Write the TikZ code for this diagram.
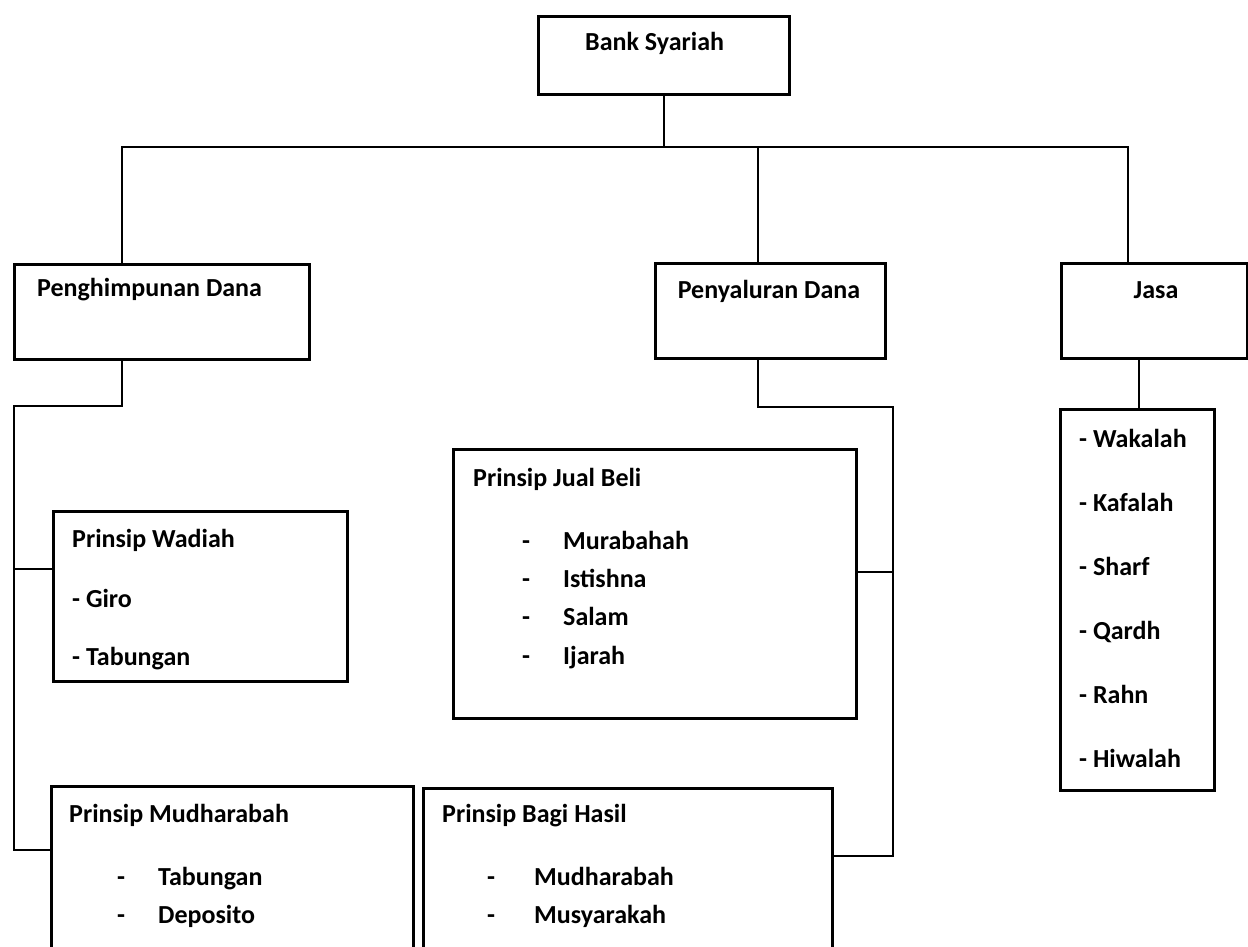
\documentclass[tikz,border=0pt]{standalone}
\usepackage{fontspec}
\setmainfont{Carlito}
\begin{document}
\begin{tikzpicture}[x=1pt,y=-1pt,
  box/.style={draw, line width=2.6pt, inner sep=0pt, anchor=north west},
  link/.style={line width=2.6pt},
  lbl/.style={anchor=base west, inner sep=0pt, font=\fontsize{26}{30}\selectfont\bfseries},
  clbl/.style={lbl, anchor=base},
]
\useasboundingbox (0,0) rectangle (1248,947);
\clip (0,0) rectangle (1248,947);
\fill[white] (0,0) rectangle (1248,947);

% boxes
\node[box, minimum width=251pt, minimum height=78pt]  (bank)        at (537,15)  {};
\node[box, minimum width=295pt, minimum height=95pt]  (penghimpunan) at (13,263)  {};
\node[box, minimum width=230pt, minimum height=95pt]  (penyaluran)  at (654,262) {};
\node[box, minimum width=186pt, minimum height=95pt]  (jasa)        at (1060,262) {};
\node[box, minimum width=294pt, minimum height=170pt] (wadiah)      at (52,510)  {};
\node[box, minimum width=403pt, minimum height=269pt] (jualbeli)    at (452,448) {};
\node[box, minimum width=154pt, minimum height=381pt] (jasalist)    at (1059,408) {};
\node[box, minimum width=362pt, minimum height=220pt] (mudharabah)  at (50,785)  {};
\node[box, minimum width=409pt, minimum height=220pt] (bagihasil)   at (422,787) {};

% junction points
\coordinate (busL) at (122,147);
\coordinate (busR) at (1128,147);
\coordinate (busM) at (758,147);
\coordinate (hA) at (122,406);
\coordinate (hB) at (14,406);
\coordinate (hC) at (14,850);
\coordinate (wJ) at (14,569);
\coordinate (pA) at (758,407);
\coordinate (pB) at (893,407);
\coordinate (pC) at (893,856);
\coordinate (jJ) at (893,572);
\coordinate (sX) at (1139,0);

% connectors
\draw[link] (bank.south) -- (bank.south |- busL);
\draw[link] (busL |- penghimpunan.north) -- (busL) -- (busR) -- (busR |- jasa.north);
\draw[link] (busM) -- (busM |- penyaluran.north);
\draw[link] (hA |- penghimpunan.south) -- (hA) -- (hB) -- (hC) -- (hC -| mudharabah.west);
\draw[link] (wJ) -- (wJ -| wadiah.west);
\draw[link] (pA |- penyaluran.south) -- (pA) -- (pB) -- (pC) -- (pC -| bagihasil.east);
\draw[link] (jJ) -- (jJ -| jualbeli.east);
\draw[link] (sX |- jasa.south) -- (sX |- jasalist.north);

% labels
\node[lbl]  (tBank) at (585,51)  {Bank Syariah};
\node[lbl]  (tHim)  at (37,296)  {Penghimpunan Dana};
\node[clbl] (tSal)  at (769,298) {Penyaluran Dana};
\node[clbl] (tJasa) at (1156,298) {Jasa};

\node[lbl] (tWad) at (72,547) {Prinsip Wadiah};
\node[lbl] (tW1)  at (72,607) {- Giro};
\node[lbl] (tW2)  at (72,665) {- Tabungan};

\node[lbl] (tJB) at (473,486) {Prinsip Jual Beli};
\foreach \y/\t [count=\i] in {549/Murabahah,587/Istishna,625/Salam,664/Ijarah}{
  \node[lbl] (jbd\i) at (522,\y) {-};
  \node[lbl] (jbt\i) at (563,\y) {\t};
}

\foreach \y/\t [count=\i] in {447/Wakalah,511/Kafalah,575/Sharf,639/Qardh,703/Rahn,767/Hiwalah}{
  \node[lbl] (js\i) at (1079,\y) {- \t};
}

\node[lbl] (tMud) at (69,822) {Prinsip Mudharabah};
\node[lbl] (md1) at (117,885) {-};
\node[lbl] (mt1) at (158,885) {Tabungan};
\node[lbl] (md2) at (117,923) {-};
\node[lbl] (mt2) at (158,923) {Deposito};

\node[lbl] (tBH) at (442,822) {Prinsip Bagi Hasil};
\node[lbl] (bd1) at (487,885) {-};
\node[lbl] (bt1) at (534,885) {Mudharabah};
\node[lbl] (bd2) at (487,923) {-};
\node[lbl] (bt2) at (534,923) {Musyarakah};
\end{tikzpicture}
\end{document}
